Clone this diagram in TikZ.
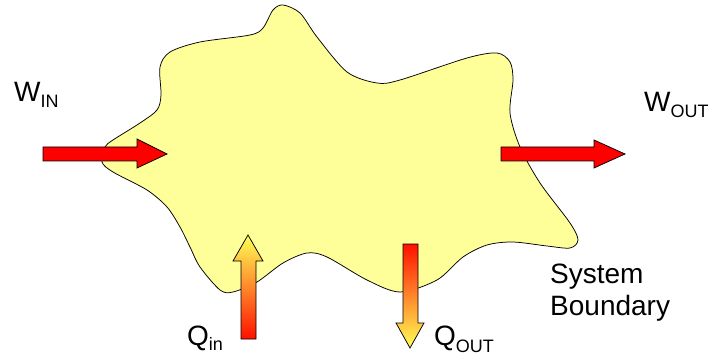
\documentclass[tikz,border=0pt]{standalone}
\usepackage{fontspec}
\setmainfont{Liberation Sans}
\begin{document}
\begin{tikzpicture}[x=1pt,y=-1pt,
  blobstyle/.style={draw=black,fill=blobfill,line width=0.75pt},
  redarrow/.style={draw=black,fill=red,line width=0.75pt,line join=miter},
  heatarrow/.style={draw=black,line width=0.75pt,line join=miter},
  lbl/.style={anchor=base west,inner sep=0pt,font=\fontsize{28}{32}\selectfont}]
\definecolor{blobfill}{HTML}{FFFF99}
\definecolor{heatyellow}{HTML}{FFFF55}
\definecolor{heatred}{HTML}{FF1000}
\useasboundingbox (0,0) rectangle (712,358);
% system blob
\draw[blobstyle] plot[smooth cycle,tension=0.5] coordinates {
(283,5) (300,13) (317,37) (347,72) (377,83) (400,80) (467,58) (497,53) (510,62) (513,80) (510,113) (520,147) (540,183) (570,223) (578,240) (570,248) (547,246) (513,242) (487,245) (463,257) (437,280) (400,292) (367,280) (327,257) (307,253) (283,263) (257,282) (233,292) (220,290) (200,267) (190,247) (180,227) (167,207) (147,190) (113,172) (102,162) (105,147) (113,140) (140,123) (157,110) (161,95) (160,67) (170,52) (200,42) (250,35) (263,28) (273,10)};
% W in arrow
\draw[redarrow] (43,147) -- (137,147) -- (137,139) -- (167,154) -- (137,168) -- (137,161) -- (43,161) -- cycle;
% W out arrow
\draw[redarrow] (501,147) -- (594,147) -- (594,140) -- (625,154) -- (594,168) -- (594,161) -- (501,161) -- cycle;
% Q in arrow (up)
\shadedraw[heatarrow,top color=heatyellow,bottom color=heatred] (241,339) -- (241,261) -- (233,261) -- (248,235) -- (263,261) -- (256,261) -- (256,339) -- cycle;
% Q out arrow (down)
\shadedraw[heatarrow,top color=heatred,bottom color=heatyellow] (403,244) -- (418,244) -- (418,323) -- (424,323) -- (410,348) -- (396,323) -- (403,323) -- cycle;
% labels
\node[lbl] (win) at (14,102) {W\raisebox{-6pt}{\fontsize{18}{20}\selectfont IN}};
\node[lbl] (wout) at (644,112) {W\raisebox{-6pt}{\fontsize{18}{20}\selectfont OUT}};
\node[lbl] (qin) at (187,345) {Q\raisebox{-5pt}{\fontsize{18}{20}\selectfont in}};
\node[lbl] (qout) at (434,345) {Q\raisebox{-7pt}{\fontsize{18}{20}\selectfont OUT}};
\node[lbl] (sb) at (550,283) {System};
\node[lbl] (sb2) at (550,315) {Boundary};
\end{tikzpicture}
\end{document}
